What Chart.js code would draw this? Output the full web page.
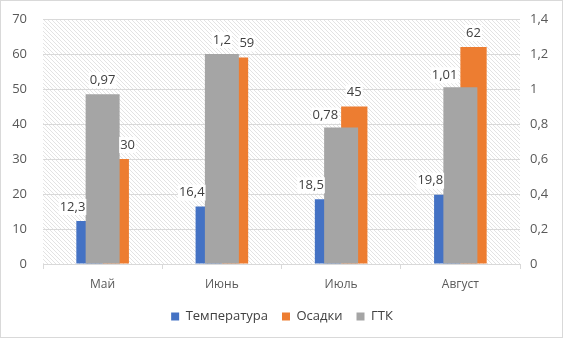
<!DOCTYPE html>
<html>
<head>
<meta charset="utf-8">
<script src="https://cdn.jsdelivr.net/npm/chart.js@4.4.1/dist/chart.umd.min.js"></script>
<style>
  html, body { margin: 0; padding: 0; background: #fff; }
  #wrap { width: 564px; height: 339px; position: relative; }
</style>
</head>
<body>
<div id="wrap"><canvas id="climateChart"></canvas></div>
<script>
const months = ["Май", "Июнь", "Июль", "Август"];
const temperature = [12.3, 16.4, 18.5, 19.8];
const precipitation = [30, 59, 45, 62];
const gtk = [0.97, 1.2, 0.78, 1.01];

const leftMax = 70;
const rightMax = 1.4;

const fmt = (v) => String(+Number(v).toFixed(2)).replace(".", ",");

// light downward diagonal fill, like the Excel plot area
function makeHatch() {
  const tile = document.createElement("canvas");
  tile.width = 4;
  tile.height = 4;
  const c = tile.getContext("2d");
  c.fillStyle = "#ffffff";
  c.fillRect(0, 0, 4, 4);
  c.fillStyle = "#e3e3e3";
  for (let i = 0; i < 4; i++) c.fillRect(i, i, 1, 1);
  return tile;
}

const hatchPlugin = {
  id: "hatch",
  beforeDraw(chart) {
    const { ctx, chartArea: a } = chart;
    ctx.save();
    ctx.fillStyle = ctx.createPattern(makeHatch(), "repeat");
    ctx.fillRect(a.left, a.top, a.right - a.left, a.bottom - a.top);
    ctx.restore();
  },
  afterDraw(chart) {
    const ctx = chart.ctx;
    ctx.save();
    ctx.strokeStyle = "#d9d9d9";
    ctx.lineWidth = 1;
    ctx.strokeRect(0.5, 0.5, chart.width - 2, chart.height - 2);
    ctx.restore();
  },
};

function drawLabel(ctx, text, x, y, align) {
  const w = ctx.measureText(text).width;
  const left = align === "right" ? x - w : x - w / 2;
  ctx.fillStyle = "#ffffff";
  ctx.fillRect(left - 1, y - 8, w + 2, 16);
  ctx.fillStyle = "#404040";
  ctx.textAlign = "left";
  ctx.fillText(text, left, y);
}

const labelPlugin = {
  id: "barLabels",
  afterDatasetsDraw(chart) {
    const ctx = chart.ctx;
    const tMeta = chart.getDatasetMeta(0).data;
    const pMeta = chart.getDatasetMeta(1).data;
    const gMeta = chart.getDatasetMeta(2).data;
    ctx.save();
    ctx.font = "13px 'Open Sans', sans-serif";
    ctx.textBaseline = "middle";
    months.forEach((m, i) => {
      const t = tMeta[i], p = pMeta[i], g = gMeta[i];
      const gLeft = g.x - g.width / 2;
      const gRight = g.x + g.width / 2;
      const lift = 14;

      drawLabel(ctx, fmt(temperature[i]), t.x - t.width / 2 + 9, t.y - lift, "right");

      const orangeAbove = p.y < g.y - 16;
      if (orangeAbove) {
        drawLabel(ctx, fmt(gtk[i]), gLeft + 14, g.y - lift + 2, "right");
        drawLabel(ctx, fmt(precipitation[i]), p.x, p.y - lift, "center");
      } else {
        drawLabel(ctx, fmt(gtk[i]), g.x, g.y - lift, "center");
        drawLabel(ctx, fmt(precipitation[i]), gRight + 8, p.y - lift, "center");
      }
    });
    ctx.restore();
  },
};

// fixed axis widths; drop the tick padding from the top/bottom reserve
function fixAxis(width) {
  return (s) => {
    s.width = width;
    s.paddingTop = 0;
    s.paddingBottom = 0;
  };
}

Chart.defaults.font.family = "'Open Sans', sans-serif";
Chart.defaults.font.size = 12;
Chart.defaults.color = "#595959";

new Chart(document.getElementById("climateChart"), {
  type: "bar",
  data: {
    labels: months,
    datasets: [
      {
        label: "Температура",
        data: temperature,
        backgroundColor: "#4472c4",
        yAxisID: "y",
        categoryPercentage: 0.441,
        barPercentage: 1,
        order: 1,
      },
      {
        label: "Осадки",
        data: precipitation,
        backgroundColor: "#ed7d31",
        yAxisID: "y",
        categoryPercentage: 0.441,
        barPercentage: 1,
        order: 2,
      },
      {
        // secondary-axis series sits centred in front of the pair
        label: "ГТК",
        data: gtk,
        backgroundColor: "#a5a5a5",
        yAxisID: "y1",
        grouped: false,
        categoryPercentage: 1,
        barPercentage: 0.285,
        order: 0,
      },
    ],
  },
  options: {
    responsive: true,
    maintainAspectRatio: false,
    animation: false,
    layout: {
      padding: { top: 19, bottom: 6, left: 0, right: 0 },
    },
    scales: {
      x: {
        grid: {
          drawOnChartArea: false,
          drawTicks: true,
          tickLength: 5,
          color: "#d9d9d9",
        },
        border: { display: true, color: "#d9d9d9" },
        ticks: { color: "#595959", font: { size: 12 }, padding: 8 },
        afterFit: (s) => { s.height = 32; },
      },
      y: {
        position: "left",
        min: 0,
        max: leftMax,
        grid: { color: "#d9d9d9", drawTicks: false },
        border: { display: false },
        ticks: {
          stepSize: 10,
          padding: 16,
          color: "#595959",
          font: { size: 13 },
        },
        afterFit: fixAxis(43),
      },
      y1: {
        position: "right",
        min: 0,
        max: rightMax,
        grid: { drawOnChartArea: false, drawTicks: false },
        border: { display: false },
        ticks: {
          stepSize: 0.2,
          padding: 10,
          color: "#595959",
          font: { size: 13 },
          callback: (v) => fmt(v),
        },
        afterFit: fixAxis(44),
      },
    },
    plugins: {
      legend: {
        position: "bottom",
        labels: {
          boxWidth: 8,
          boxHeight: 8,
          padding: 14,
          color: "#404040",
          font: { size: 13 },
          sort: (a, b) => a.datasetIndex - b.datasetIndex,
        },
      },
      tooltip: { enabled: false },
    },
  },
  plugins: [hatchPlugin, labelPlugin],
});
</script>
</body>
</html>
